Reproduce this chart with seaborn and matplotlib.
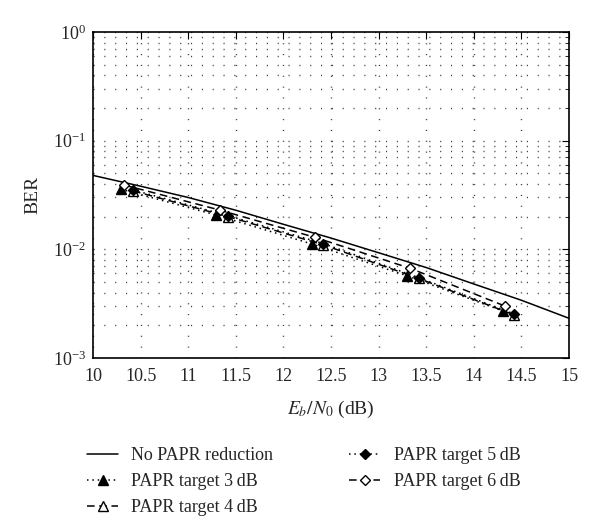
import numpy as np
import pandas as pd
import matplotlib
matplotlib.use("Agg")
import matplotlib.pyplot as plt
import seaborn as sns
from matplotlib.ticker import LogLocator, FixedLocator, NullFormatter

# ---- data ----
x_nopapr = [10, 10.5, 11, 11.5, 12, 12.5, 13, 13.5, 14, 14.5, 15]
ber_nopapr = [0.0479, 0.0381, 0.0300, 0.0229, 0.0170, 0.0127, 0.0093, 0.0068, 0.0048, 0.0034, 0.00232]

x_t3 = [10.29, 11.29, 12.30, 13.30, 14.31]
ber_t3 = [0.0358, 0.0207, 0.0112, 0.0057, 0.0027]

x_t4 = [10.42, 11.42, 12.42, 13.42, 14.42]
ber_t4 = [0.0345, 0.0200, 0.0110, 0.0054, 0.00250]

x_t5 = [10.42, 11.42, 12.42, 13.42, 14.42]
ber_t5 = [0.0352, 0.0204, 0.0113, 0.0055, 0.00255]

x_t6 = [10.33, 11.33, 12.33, 13.33, 14.33]
ber_t6 = [0.0390, 0.0230, 0.0129, 0.0067, 0.0030]

labels = ["No PAPR reduction", "PAPR target 3\u2009dB", "PAPR target 4\u2009dB",
          "PAPR target 5\u2009dB", "PAPR target 6\u2009dB"]
xticks = [10, 10.5, 11, 11.5, 12, 12.5, 13, 13.5, 14, 14.5, 15]
xtick_labels = ["10", "10.5", "11", "11.5", "12", "12.5", "13", "13.5", "14", "14.5", "15"]

sns.set_style("white")
plt.rcParams["font.family"] = ["Liberation Serif", "DejaVu Serif"]
plt.rcParams["mathtext.fontset"] = "stix"

fig = plt.figure(figsize=(6.0, 5.26), dpi=100)
ax = fig.add_axes([93/600, 1 - 358/526, (569-93)/600, (358-32)/526])

series = [
    (x_nopapr, ber_nopapr, labels[0], "-", None, "black"),
    (x_t3, ber_t3, labels[1], (0, (1, 2.5)), "^", "black"),
    (x_t4, ber_t4, labels[2], (0, (5, 3)), "^", "white"),
    (x_t5, ber_t5, labels[3], (0, (1, 2.5)), "D", "black"),
    (x_t6, ber_t6, labels[4], (0, (5, 3)), "D", "white"),
]
for xs, ys, lab, ls, mk, mfc in series:
    df = pd.DataFrame({"x": xs, "y": ys})
    kw = dict(color="black", linewidth=1.1, linestyle=ls, label=lab)
    if mk is not None:
        kw.update(marker=mk, markersize=7 if mk == "^" else 5,
                  markerfacecolor=mfc, markeredgecolor="black", markeredgewidth=1.0)
    sns.lineplot(data=df, x="x", y="y", ax=ax, sort=True, estimator=None, legend=False, **kw)

ax.set_yscale("log")
ax.set_xlim(10, 15)
ax.set_ylim(1e-3, 1)
ax.xaxis.set_major_locator(FixedLocator(xticks))
ax.set_xticklabels(xtick_labels)
ax.yaxis.set_major_locator(LogLocator(base=10, numticks=10))
ax.yaxis.set_minor_locator(LogLocator(base=10, subs=np.arange(2, 10), numticks=10))
ax.yaxis.set_minor_formatter(NullFormatter())

grid_ls = (0, (0.8, 7))
ax.grid(True, which="major", axis="both", color="0.25", linestyle=grid_ls, linewidth=1.0)
ax.grid(True, which="minor", axis="y", color="0.25", linestyle=grid_ls, linewidth=1.0)
ax.set_axisbelow(True)

ax.tick_params(which="both", direction="in", top=True, right=True, labelsize=13,
               color="black")
ax.tick_params(which="major", length=5)
ax.tick_params(which="minor", length=3)
ax.tick_params(axis="x", which="major", pad=7)
ax.tick_params(axis="y", which="major", pad=5)
for s in ax.spines.values():
    s.set_color("black")
    s.set_linewidth(1.2)

ax.set_xlabel(r"$E_b/N_0$ (dB)", fontsize=14, labelpad=10)
ax.set_ylabel("BER", fontsize=14, labelpad=8)

handles, labs = ax.get_legend_handles_labels()
leg = fig.legend(handles, labs, loc="upper left", bbox_to_anchor=(80/600, 1 - 440/526),
                 ncol=2, frameon=False, fontsize=13, handlelength=1.7,
                 columnspacing=4.2, labelspacing=0.5, handletextpad=0.75,
                 borderaxespad=0.0)

fig.savefig("out.png", dpi=100)
